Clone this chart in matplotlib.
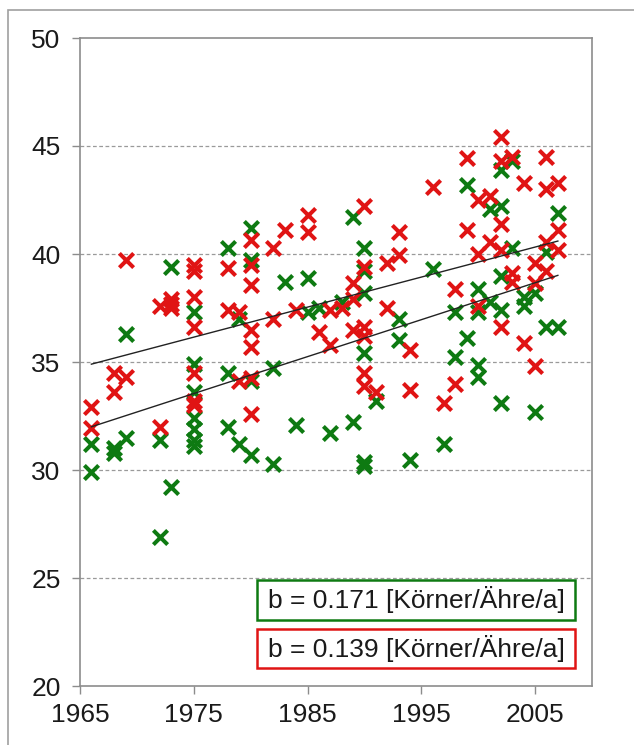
import matplotlib.pyplot as plt
from matplotlib.patches import Rectangle
import numpy as np

# Körner pro Ähre
green_years = [1966, 1966, 1968, 1968, 1969, 1969, 1972, 1972, 1973, 1973,
               1975, 1975, 1975, 1975, 1975, 1975, 1975,
               1978, 1978, 1978, 1979, 1979, 1980, 1980, 1980, 1980,
               1982, 1982, 1983, 1984, 1985, 1985, 1986, 1987, 1988,
               1989, 1989, 1990, 1990, 1990, 1990, 1990, 1990, 1991,
               1993, 1993, 1994, 1996, 1997, 1998, 1998, 1999, 1999,
               2000, 2000, 2000, 2000, 2001, 2001,
               2002, 2002, 2002, 2002, 2002, 2003, 2003, 2004, 2004,
               2005, 2005, 2006, 2006, 2007, 2007]
green_vals = [31.2, 29.9, 31.0, 30.8, 36.3, 31.5, 31.4, 26.9, 39.4, 29.2,
              37.3, 34.9, 33.6, 32.4, 31.9, 31.4, 31.1,
              40.3, 34.5, 32.0, 37.0, 31.2, 41.2, 39.7, 34.1, 30.7,
              34.7, 30.3, 38.7, 32.1, 38.9, 37.3, 37.5, 31.7, 37.8,
              41.7, 32.2, 40.3, 39.2, 38.2, 35.4, 30.35, 30.2, 33.2,
              37.0, 36.0, 30.45, 39.3, 31.2, 37.3, 35.25, 43.2, 36.1,
              38.4, 37.3, 34.85, 34.3, 42.1, 37.8,
              43.9, 42.2, 39.0, 37.4, 33.1, 44.3, 40.3, 38.0, 37.6,
              38.2, 32.7, 40.1, 36.6, 41.9, 36.6]

red_years = [1966, 1966, 1968, 1968, 1969, 1969, 1972, 1972, 1973, 1973, 1973,
             1975, 1975, 1975, 1975, 1975, 1975, 1975,
             1978, 1978, 1979, 1979, 1980, 1980, 1980, 1980, 1980, 1980, 1980,
             1982, 1982, 1983, 1984, 1985, 1985, 1986, 1987, 1987, 1988,
             1989, 1989, 1989, 1990, 1990, 1990, 1990, 1990, 1990, 1991,
             1992, 1992, 1993, 1993, 1994, 1994, 1996, 1997, 1998, 1998,
             1999, 1999, 2000, 2000, 2000, 2001, 2001,
             2002, 2002, 2002, 2002, 2002, 2003, 2003, 2003, 2004, 2004,
             2005, 2005, 2005, 2006, 2006, 2006, 2006, 2007, 2007, 2007]
red_vals = [32.9, 31.95, 34.5, 33.6, 39.7, 34.3, 37.6, 32.0, 37.9, 37.7, 37.5,
            39.5, 39.2, 38.0, 36.6, 34.5, 33.2, 33.0,
            39.35, 37.4, 37.3, 34.1, 40.65, 39.5, 38.55, 36.5, 35.7, 34.25, 32.6,
            40.3, 37.0, 41.1, 37.4, 41.8, 41.0, 36.4, 37.4, 35.8, 37.5,
            38.65, 37.9, 36.5, 42.2, 39.4, 36.6, 36.2, 34.5, 33.9, 33.6,
            39.6, 37.5, 41.0, 39.95, 35.55, 33.7, 43.1, 33.1, 38.4, 34.0,
            44.45, 41.1, 42.5, 40.0, 37.6, 42.7, 40.55,
            45.4, 44.3, 41.4, 40.2, 36.6, 44.5, 39.1, 38.7, 43.3, 35.9,
            39.6, 38.65, 34.8, 44.5, 43.0, 40.55, 39.2, 43.3, 41.1, 40.2]

# trend lines: value at 1966 and slope b
green_start, green_b = 32.0, 0.171
red_start, red_b = 34.9, 0.139
trend_years = [1966, 2007]

GREEN = '#0E7A12'
RED = '#E01414'
GRAY = '#8C8C8C'

plt.rcParams['font.family'] = ['Liberation Sans', 'DejaVu Sans']

fig = plt.figure(figsize=(6.34, 7.45), dpi=100)
ax = fig.add_axes([80 / 634, 1 - 686 / 745, 512 / 634, 648 / 745])

# outer chart frame (only top and left edges are visible in the crop)
fig.patches.append(Rectangle((8 / 634, -0.1), 1.2, 1.1 - 10 / 745,
                             transform=fig.transFigure, fill=False,
                             edgecolor='#A0A0A0', linewidth=1.2))

ax.scatter(green_years, green_vals, marker='x', s=105, linewidths=2.9,
           color=GREEN, zorder=3)
ax.scatter(red_years, red_vals, marker='x', s=105, linewidths=2.9,
           color=RED, zorder=3)

tx = np.array(trend_years)
ax.plot(tx, green_start + green_b * (tx - 1966), color='#222222', lw=1.0, zorder=4)
ax.plot(tx, red_start + red_b * (tx - 1966), color='#222222', lw=1.0, zorder=4)

ax.set_xlim(1965, 2010)
ax.set_ylim(20, 50)
ax.set_xticks([1965, 1975, 1985, 1995, 2005])
ax.set_yticks([20, 25, 30, 35, 40, 45, 50])
ax.tick_params(labelsize=19, colors=GRAY, labelcolor='#1A1A1A',
               direction='out', length=6, width=1)
ax.tick_params(axis='x', pad=6)
ax.tick_params(axis='y', pad=8)

for y in [25, 30, 35, 40, 45]:
    ax.axhline(y, color='#9A9A9A', lw=0.9, ls=(0, (3, 2)), zorder=1)

for s in ax.spines.values():
    s.set_color(GRAY)
    s.set_linewidth(1.2)

# slope boxes
boxes = [(0.102, 0.062, GREEN, 'b = 0.171 [Körner/Ähre/a]'),
         (0.028, 0.060, RED, 'b = 0.139 [Körner/Ähre/a]')]
for y0, h, col, label in boxes:
    ax.add_patch(Rectangle((0.346, y0), 0.621, h, transform=ax.transAxes,
                           facecolor='white', edgecolor=col, linewidth=1.8,
                           zorder=5))
    ax.text(0.6565, y0 + h / 2, label, transform=ax.transAxes, fontsize=19,
            ha='center', va='center', color='#1A1A1A', zorder=6)

fig.savefig('out.png', dpi=100)
